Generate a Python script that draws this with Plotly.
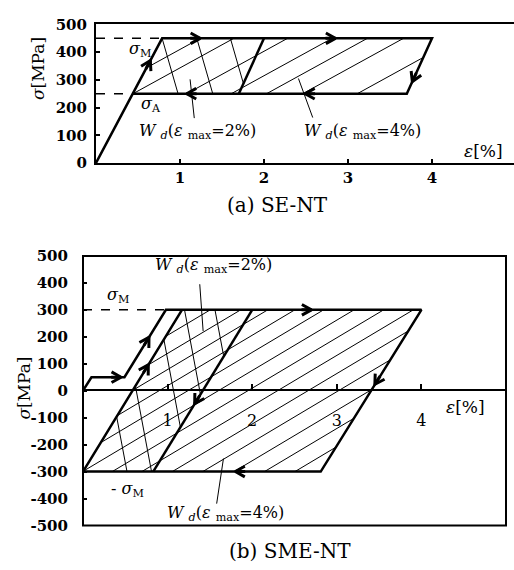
import math
import plotly.graph_objects as go

# ---------------- data ----------------
# (a) SE-NT : stress-strain loop
se_eps = [0.0, 0.787, 4.0, 3.70, 0.437]
se_sig = [0, 450, 450, 250, 250]
se2_eps = [2.0, 1.70]            # inner edge of the 2 % loop
se2_sig = [450, 250]
se_dash_m_eps = [0.0, 0.787]; se_dash_m_sig = [450, 450]
se_dash_a_eps = [0.0, 0.437]; se_dash_a_sig = [250, 250]
se_poly4 = [(0.437, 250), (0.787, 450), (4.0, 450), (3.70, 250)]
se_poly2 = [(0.437, 250), (0.787, 450), (2.0, 450), (1.70, 250)]
se_hatch_fwd = [0.04, 0.44, 1.08, 1.61, 2.03, 2.46, 3.11]   # eps at sigma=250
se_hatch_back = [0.787, 1.20, 1.60]                          # eps at sigma=450

# (b) SME-NT
sme_eps = [0.0, 0.10, 0.49, 0.98, 4.0, 2.81, 0.0, 1.17]
sme_sig = [0, 50, 50, 300, 300, -300, -300, 300]
sme2_eps = [2.0, 0.83]
sme2_sig = [300, -300]
sme_dash_eps = [0.0, 0.98]; sme_dash_sig = [300, 300]
sme_poly4 = [(0.0, -300), (1.17, 300), (4.0, 300), (2.81, -300)]
sme_poly2 = [(0.0, -300), (1.17, 300), (2.0, 300), (0.83, -300)]
sme_hatch_fwd = [-0.10, 0.26, 0.58, 0.90, 1.24, 1.60, 1.95, 2.30, 2.66, 3.02, 3.39, 3.75, 4.11]  # eps at sigma=0
sme_hatch_back = [0.16, 0.45, 0.89, 1.20, 1.56]                                             # eps at sigma=300

# arrows: (head_eps, head_sig, tail_eps, tail_sig)
se_arrows = [(0.647, 370, 0.577, 330), (1.24, 450, 1.00, 450), (2.85, 450, 2.60, 450),
             (3.766, 294, 3.82, 330), (2.49, 250, 2.75, 250), (1.08, 250, 1.35, 250)]
sme_arrows = [(0.45, 50, 0.25, 50), (0.78, 198, 0.70, 157), (0.772, 96, 0.6825, 50),
              (2.70, 300, 2.45, 300), (3.45, 24, 3.544, 70), (1.80, -300, 2.05, -300),
              (1.32, -48, 1.415, 0)]

# pointer lines (eps0, sig0, eps1, sig1)
se_pointers = [(1.12, 302, 1.17, 162), (2.41, 305, 2.58, 164)]
sme_pointers = [(1.38, 395, 1.42, 221), (1.66, -252, 1.58, -419)]

x_ticks = [1, 2, 3, 4]
se_y_ticks = [0, 100, 200, 300, 400, 500]
sme_y_ticks = [-500, -400, -300, -200, -100, 0, 100, 200, 300, 400, 500]
sme_y_text = ["-500", "-400", "-300", "-200", "-100", "0", "100", "200", "300", "400", "500"]

# pixel geometry of the two panels
W, H = 514, 570
TOP_X0, TOP_PXU = 96, 84.0          # px of eps=0, px per %
TOP_Y0, TOP_Y500 = 159, 16          # px of sigma=0 / 500
BOT_X0, BOT_PXU = 83, 84.6
BOT_YP500, BOT_YM500 = 255, 533.3


# ---------------- helpers ----------------
def clip(p0, d, poly):
    area = 0.0
    n = len(poly)
    for i in range(n):
        a, b = poly[i], poly[(i + 1) % n]
        area += a[0] * b[1] - b[0] * a[1]
    s = 1.0 if area > 0 else -1.0
    tmin, tmax = -1e9, 1e9
    for i in range(n):
        a, b = poly[i], poly[(i + 1) % n]
        ex, ey = b[0] - a[0], b[1] - a[1]
        nx, ny = -ey * s, ex * s
        num = nx * (p0[0] - a[0]) + ny * (p0[1] - a[1])
        den = nx * d[0] + ny * d[1]
        if abs(den) < 1e-12:
            if num < 0:
                return None
            continue
        t = -num / den
        if den > 0:
            tmin = max(tmin, t)
        else:
            tmax = min(tmax, t)
    if tmin >= tmax - 1e-9:
        return None
    return ((p0[0] + tmin * d[0], p0[1] + tmin * d[1]),
            (p0[0] + tmax * d[0], p0[1] + tmax * d[1]))


def hatch(points, direction, poly):
    xs, ys = [], []
    for p in points:
        seg = clip(p, direction, poly)
        if seg:
            xs += [seg[0][0], seg[1][0], None]
            ys += [seg[0][1], seg[1][1], None]
    return xs, ys


def chevrons(arrows, sx, sy, length=11.0, half_angle=30):
    """Arrow heads as chevrons; sizes in pixels converted with the axis scales."""
    xs, ys = [], []
    for hx, hy, tx, ty in arrows:
        dx, dy = (hx - tx) * sx, (hy - ty) * sy
        n = math.hypot(dx, dy)
        ux, uy = dx / n, dy / n
        pts = []
        for sgn in (1, -1):
            a = math.radians(half_angle) * sgn
            rx = ux * math.cos(a) - uy * math.sin(a)
            ry = ux * math.sin(a) + uy * math.cos(a)
            pts.append((hx - length * rx / sx, hy - length * ry / sy))
        xs += [pts[0][0], hx, pts[1][0], None]
        ys += [pts[0][1], hy, pts[1][1], None]
        xs += [hx - 0.9 * length * ux / sx, hx, None]
        ys += [hy - 0.9 * length * uy / sy, hy, None]
    return xs, ys


fig = go.Figure()
BLACK = "black"
FONT = "DejaVu Serif"


def lines(x, y, ax, width=1, dash=None):
    fig.add_trace(go.Scatter(x=x, y=y, mode="lines", hoverinfo="skip",
                             line=dict(color=BLACK, width=width, dash=dash),
                             xaxis="x" if ax == 1 else "x2", yaxis="y" if ax == 1 else "y2"))


# ---- top panel ----
hx, hy = hatch([(b, 250) for b in se_hatch_fwd], (1.2, 200), se_poly4)
lines(hx, hy, 1)
hx, hy = hatch([(t, 450) for t in se_hatch_back], (0.19, -200), se_poly2)
lines(hx, hy, 1)
px_, py_ = [], []
for a, b, c, d in se_pointers:
    px_ += [a, c, None]; py_ += [b, d, None]
lines(px_, py_, 1)
lines(se_dash_m_eps, se_dash_m_sig, 1, 1.5, "dash")
lines(se_dash_a_eps, se_dash_a_sig, 1, 1.5, "dash")
lines(se_eps, se_sig, 1, 2.5)
lines(se2_eps, se2_sig, 1, 2.5)
sx_t = TOP_PXU
sy_t = (TOP_Y0 - TOP_Y500) / 500.0
cx, cy = chevrons(se_arrows, sx_t, sy_t)
lines(cx, cy, 1, 3)

# ---- bottom panel ----
hx, hy = hatch([(b, 0) for b in sme_hatch_fwd], (1.604, 300), sme_poly4)
lines(hx, hy, 2)
hx, hy = hatch([(t, 300) for t in sme_hatch_back], (0.36, -600), sme_poly2)
lines(hx, hy, 2)
px_, py_ = [], []
for a, b, c, d in sme_pointers:
    px_ += [a, c, None]; py_ += [b, d, None]
lines(px_, py_, 2)
lines(sme_dash_eps, sme_dash_sig, 2, 1.5, "dash")
lines(sme_eps, sme_sig, 2, 2.5)
lines(sme2_eps, sme2_sig, 2, 2.5)
sx_b = BOT_PXU
sy_b = (BOT_YM500 - BOT_YP500) / 1000.0
cx, cy = chevrons(sme_arrows, sx_b, sy_b)
lines(cx, cy, 2, 3)

annotations = []


def txt(text, x, y, xref, yref, size=16, **kw):
    d = dict(text=text, x=x, y=y, xref=xref, yref=yref, showarrow=False,
             xanchor="center", yanchor="middle",
             font=dict(family=FONT, size=size, color=BLACK))
    d.update(kw)
    annotations.append(d)


wd2 = "<i>W</i> <sub><i>d</i></sub>(<i>ε</i> <sub>max</sub>=2%)"
wd4 = "<i>W</i> <sub><i>d</i></sub>(<i>ε</i> <sub>max</sub>=4%)"

# top panel texts
txt("<i>σ</i><sub>M</sub>", 0.52, 409, "x", "y", 16)
txt("<i>σ</i><sub>A</sub>", 0.655, 210, "x", "y", 16)
txt(wd2, 1.21, 112, "x", "y", 16)
txt(wd4, 3.17, 112, "x", "y", 16)
txt("<i>ε</i>[%]", 4.61, 42, "x", "y", 17)
txt("<i>σ</i>[MPa]", 38 / W, 1 - 62 / H, "paper", "paper", 17, textangle=-90)
txt("(a) SE-NT", 277 / W, 1 - 202 / H, "paper", "paper", 20)

# bottom panel texts
txt("<i>σ</i><sub>M</sub>", 0.41, 354, "x2", "y2", 16)
txt("- <i>σ</i><sub>M</sub>", 0.53, -365, "x2", "y2", 16)
txt(wd2, 1.54, 465, "x2", "y2", 16)
txt(wd4, 1.68, -455, "x2", "y2", 16)
txt("<i>ε</i>[%]", 4.52, -60, "x2", "y2", 17)
txt("<i>σ</i>[MPa]", 24 / W, 1 - 392 / H, "paper", "paper", 17, textangle=-90)
txt("(b) SME-NT", 290 / W, 1 - 560 / H, "paper", "paper", 20)

tickfont_b = dict(family=FONT, size=15, color=BLACK, weight="bold")

fig.update_layout(
    width=W, height=H,
    margin=dict(l=0, r=0, t=0, b=0),
    paper_bgcolor="white", plot_bgcolor="white",
    showlegend=False,
    font=dict(family=FONT, color=BLACK),
    xaxis=dict(domain=[TOP_X0 / W, 1.0], range=[0, (W - TOP_X0) / TOP_PXU], anchor="y",
               showgrid=False, zeroline=False, showline=True, linecolor=BLACK, linewidth=2,
               mirror=True, ticks="inside", ticklen=4, tickwidth=1.5, tickcolor=BLACK,
               tickvals=x_ticks, tickfont=tickfont_b),
    yaxis=dict(domain=[1 - TOP_Y0 / H, 1 - TOP_Y500 / H], range=[0, 500], anchor="x",
               showgrid=False, zeroline=False, showline=True, linecolor=BLACK, linewidth=2,
               ticks="inside", ticklen=4, tickwidth=1.5, tickcolor=BLACK,
               tickvals=se_y_ticks, tickfont=tickfont_b, ticklabelstandoff=4),
    xaxis2=dict(domain=[BOT_X0 / W, (BOT_X0 + 5 * BOT_PXU) / W], range=[0, 5], anchor="free",
                position=1 - 393.3 / H,
                showgrid=False, zeroline=False, showline=True, linecolor=BLACK, linewidth=2,
                ticks="inside", ticklen=5, tickwidth=1.5, tickcolor=BLACK,
                tickvals=x_ticks, tickfont=dict(family=FONT, size=16, color=BLACK),
                ticklabelstandoff=16),
    yaxis2=dict(domain=[1 - BOT_YM500 / H, 1 - BOT_YP500 / H], range=[-500, 500], anchor="x2",
                showgrid=False, zeroline=False, showline=False,
                ticks="inside", ticklen=4, tickwidth=1.5, tickcolor=BLACK,
                tickvals=sme_y_ticks, ticktext=sme_y_text, tickfont=tickfont_b,
                ticklabelstandoff=14),
    shapes=[dict(type="rect", xref="x2 domain", yref="y2 domain", x0=0, x1=1, y0=0, y1=1,
                 line=dict(color=BLACK, width=2))],
    annotations=annotations,
)

fig.write_html("out.html", config={"displayModeBar": False},
               post_script="document.body.style.margin='0';document.body.style.overflow='hidden';")
